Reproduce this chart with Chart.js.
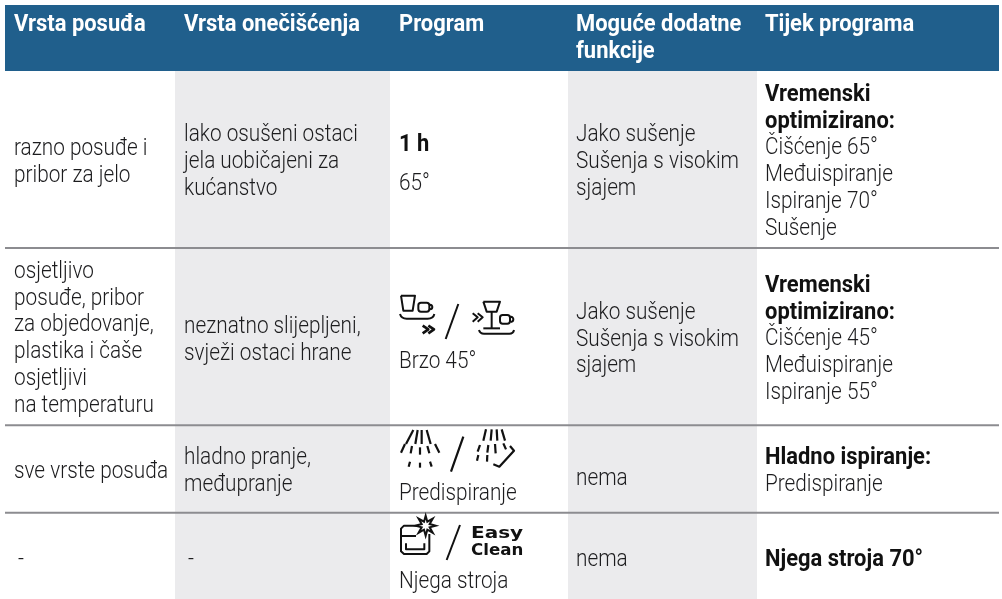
<!DOCTYPE html>
<html><head><meta charset="utf-8">
<style>html,body{margin:0;padding:0;background:#fff}canvas{display:block}</style>
<script src="https://cdn.jsdelivr.net/npm/chart.js@4"></script></head>
<body><canvas id="c" width="1002" height="599"></canvas>
<script>
// table content
const headers = [["Vrsta posuđa"],["Vrsta onečišćenja"],["Program"],["Moguće dodatne","funkcije"],["Tijek programa"]];
const dishes = [["razno posuđe i","pribor za jelo"],["osjetljivo","posuđe, pribor","za objedovanje,","plastika i čaše","osjetljivi","na temperaturu"],["sve vrste posuđa"],["-"]];
const soils = [["lako osušeni ostaci","jela uobičajeni za","kućanstvo"],["neznatno slijepljeni,","svježi ostaci hrane"],["hladno pranje,","međupranje"],["-"]];
const programs = [["1 h","65°"],["Brzo 45°"],["Predispiranje"],["Njega stroja"]];
const extras = [["Jako sušenje","Sušenja s visokim","sjajem"],["Jako sušenje","Sušenja s visokim","sjajem"],["nema"],["nema"]];
const flows = [["Vremenski","optimizirano:","Čišćenje 65°","Međuispiranje","Ispiranje 70°","Sušenje"],["Vremenski","optimizirano:","Čišćenje 45°","Međuispiranje","Ispiranje 55°"],["Hladno ispiranje:","Predispiranje"],["Njega stroja 70°"]];
const easyClean = ["Easy","Clean"];
// layout of the table
const colX = [14,184,399,576,765];
const headerBase = [30.7,57.7];
const firstBase = [[154.7,277.7,477.7,565.7],[141.2,332.7,463.7,565.7],[150.7,367.7,499.7,587.7],[141.2,318.7,484.7,565.7],[100.7,291.7,463.7,565.7]];
const grayBands = [[175,390],[568,757]];
const rules = [248,425.3,512.7];
const BODY = '300 24px Roboto', BOLD = '700 24.5px Roboto', COND = 0.865, BOLDCOND = 0.895;
const logoCond = [1.25,1.04];

function line(pts,color,width,order){return {data:pts.map(p=>({x:p[0],y:p[1]})),borderColor:color,borderWidth:width,pointRadius:0,order:order,tension:0,fill:false};}
const datasets = [];
rules.forEach(y=>datasets.push(line([[5,y],[999,y]],'#8c8c90',2,1)));
grayBands.forEach(b=>datasets.push(line([[(b[0]+b[1])/2,71],[(b[0]+b[1])/2,599]],'#ebebed',b[1]-b[0],3)));
datasets.push(line([[5,38],[999,38]],'#205f8c',66,2));

function txt(ctx,s,x,y,font,color,cond){ctx.save();ctx.font=font;ctx.fillStyle=color;ctx.textBaseline='alphabetic';ctx.translate(x,y);ctx.scale(cond,1);ctx.fillText(s,0,0);ctx.restore();}
function stroke(ctx,ox,oy,segs,w){ctx.save();ctx.translate(ox,oy);ctx.scale(1/3,1/3);ctx.strokeStyle='#111';ctx.lineWidth=w*3;ctx.lineCap='butt';ctx.lineJoin='round';
 segs.forEach(s=>{ctx.beginPath();ctx.moveTo(s[0],s[1]);for(let i=2;i<s.length;i+=2)ctx.lineTo(s[i],s[i+1]);ctx.stroke();});ctx.restore();}
function icons(ctx){
 // quick programme
 stroke(ctx,380,280,[[63,47,105,47,98,92,70,92,63,47],[235,72,197,177],[278,100,293,112,278,125],[293,100,308,112,293,125],
  [310,65,360,65,350,95,320,95,310,65],[335,95,335,145],[310,145,360,145]],2);
 stroke(ctx,380,280,[[128,137,145,148,128,160],[145,137,162,148,145,160]],2.6);
 ctx.save();ctx.translate(380,280);ctx.scale(1/3,1/3);ctx.strokeStyle='#111';ctx.lineWidth=6;
 ctx.beginPath();ctx.roundRect(115,68,33,27,8);ctx.moveTo(150,74);ctx.arc(150,81,7,-1.5,1.5);ctx.stroke();
 ctx.beginPath();ctx.roundRect(360,105,30,26,8);ctx.moveTo(392,110);ctx.arc(392,118,8,-1.5,1.5);ctx.stroke();
 ctx.beginPath();ctx.moveTo(60,102);ctx.quadraticCurveTo(64,116,80,116);ctx.lineTo(143,116);ctx.quadraticCurveTo(160,116,163,102);ctx.stroke();
 ctx.beginPath();ctx.moveTo(297,150);ctx.quadraticCurveTo(300,161,312,161);ctx.lineTo(388,161);ctx.quadraticCurveTo(400,161,402,150);ctx.stroke();
 ctx.restore();
 // pre-rinse
 stroke(ctx,380,420,[[100,30,78,72],[113,30,106,72],[125,30,125,72],[140,30,152,72],[75,72,63,98],[96,78,92,100],[120,82,120,104],[142,78,148,100],[165,72,178,98],[90,125,86,140],[120,128,120,143],[150,125,155,140],
  [250,50,213,155],[318,28,310,62],[335,28,332,62],[350,28,352,62],[365,28,375,62],[300,75,293,95],[325,75,322,98],[345,72,347,100],[370,70,378,88],[295,105,291,122],[322,105,321,125],
  [340,133,358,140,402,92,390,78]],2.2);
 // machine care
 stroke(ctx,380,510,[[240,45,200,150]],2);
 stroke(ctx,380,510,[[118,47,72,47,63,56,63,124,72,132,140,132,148,124,148,72],[63,78,108,78],[78,100,78,118,133,118,133,100]],2);
 ctx.save();ctx.translate(380,510);ctx.scale(1/3,1/3);ctx.beginPath();
 for(let i=0;i<16;i++){const a=i*Math.PI/8-Math.PI/2,r=i%2?13:30;const px=137+r*Math.cos(a),py=47+r*Math.sin(a);i?ctx.lineTo(px,py):ctx.moveTo(px,py);}
 ctx.closePath();ctx.fillStyle='#fff';ctx.fill();ctx.strokeStyle='#111';ctx.lineWidth=6;ctx.lineJoin='miter';ctx.stroke();ctx.restore();
}
const tablePlugin = {id:'tableText',afterDatasetsDraw(chart){
 const ctx = chart.ctx, ink = '#1c1c1e';
 headers.forEach((h,c)=>h.forEach((s,i)=>txt(ctx,s,colX[c],headerBase[i],BOLD,'#ffffff',BOLDCOND)));
 [dishes,soils,programs,extras,flows].forEach((col,c)=>col.forEach((cell,r)=>{
  cell.forEach((s,i)=>{
   let y = firstBase[c][r]+i*26.8;
   let bold = c===4 && ((r<2&&i<2)||(r>=2&&i===0));
   if(c===2&&r===0) { y = i===0?150.7:190; bold = i===0; }
   txt(ctx,s,colX[c]+(s==='-'?4:0),y,bold?BOLD:BODY,bold?'#111':ink,bold?BOLDCOND:COND);
  });
 }));
 icons(ctx);
 easyClean.forEach((s,i)=>txt(ctx,s,471,538+i*17,'bold 16px "DejaVu Sans"','#111',logoCond[i]));
}};
new Chart(document.getElementById('c'),{type:'line',data:{datasets},plugins:[tablePlugin],options:{
 responsive:false,animation:false,events:[],layout:{padding:0},
 plugins:{legend:{display:false},tooltip:{enabled:false},title:{display:false}},
 scales:{x:{type:'linear',display:false,min:0,max:1002},y:{type:'linear',display:false,reverse:true,min:0,max:599}}}});
</script></body></html>
